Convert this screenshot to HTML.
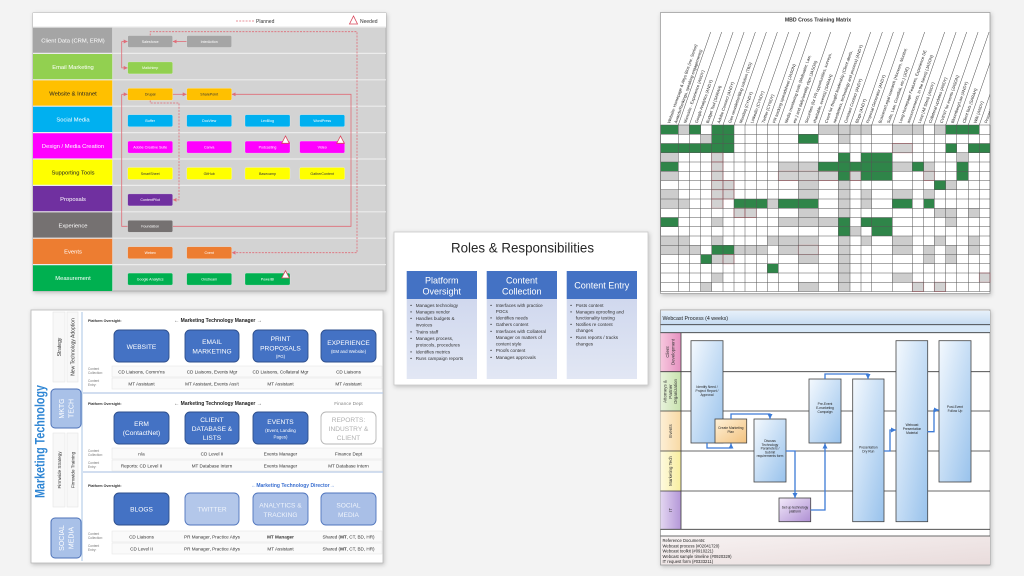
<!DOCTYPE html>
<html><head><meta charset="utf-8">
<style>
html,body{margin:0;padding:0;background:#f3f3f3;}
svg{display:block;font-family:"Liberation Sans",Arial,sans-serif;}
.g{fill:#2f8549}.s{fill:#cdcdcd}.r{fill:#d2d2d2;stroke:#e8707c;stroke-width:0.7}
.bt{font-size:3.6px;fill:#fff;text-anchor:middle}
.btd{font-size:3.6px;fill:#333;text-anchor:middle}
.lb{font-size:5.8px;fill:#fff;text-anchor:middle}
.v{font-size:4.6px;fill:#333;text-anchor:middle}
.cl{font-size:3.2px;fill:#777}
.po{font-size:3.6px;fill:#333;font-weight:bold}
.bx{font-size:6.6px;fill:#fff;text-anchor:middle}
.bs{font-size:4.4px;fill:#fff;text-anchor:middle}
.bl{font-size:4.6px;fill:#333}
.mh{font-size:4.1px;fill:#222}
.wt{font-size:3.3px;fill:#222;text-anchor:middle}
.ln{font-size:4.4px;fill:#333;text-anchor:middle}
</style></head><body>
<svg width="1024" height="576" viewBox="0 0 1024 576" xmlns="http://www.w3.org/2000/svg">
<defs>
 <filter id="sh" x="-5%" y="-5%" width="110%" height="110%"><feDropShadow dx="1" dy="1.5" stdDeviation="2" flood-color="#000" flood-opacity="0.22"/></filter>
 <marker id="ar" markerWidth="4" markerHeight="4" refX="4" refY="2" orient="auto" markerUnits="userSpaceOnUse"><path d="M0,0 L4,2 L0,4 z" fill="#e06d78"/></marker>
 <marker id="ab" markerWidth="5" markerHeight="5" refX="5" refY="2.5" orient="auto" markerUnits="userSpaceOnUse"><path d="M0,0 L5,2.5 L0,5 z" fill="#3d7bd6"/></marker>
 <linearGradient id="lav" x1="0" y1="0" x2="0" y2="1"><stop offset="0" stop-color="#d0d8ee"/><stop offset="1" stop-color="#e2e7f4"/></linearGradient>
 <linearGradient id="tb" x1="0" y1="0" x2="0" y2="1"><stop offset="0" stop-color="#e6f0fa"/><stop offset="1" stop-color="#c6dcf2"/></linearGradient>
 <linearGradient id="bb" x1="0" y1="0" x2="1" y2="1"><stop offset="0" stop-color="#f4f9fe"/><stop offset="1" stop-color="#98c2ec"/></linearGradient>
 <linearGradient id="pe" x1="0" y1="0" x2="1" y2="1"><stop offset="0" stop-color="#fff1d8"/><stop offset="1" stop-color="#f2c27f"/></linearGradient>
 <linearGradient id="pu" x1="0" y1="0" x2="1" y2="1"><stop offset="0" stop-color="#f3eafa"/><stop offset="1" stop-color="#ae8fd3"/></linearGradient>
 <linearGradient id="pk" x1="0" y1="0" x2="1" y2="0"><stop offset="0" stop-color="#f7c8de"/><stop offset="1" stop-color="#e590c0"/></linearGradient>
 <linearGradient id="gr" x1="0" y1="0" x2="1" y2="0"><stop offset="0" stop-color="#e8f3dc"/><stop offset="1" stop-color="#c8e2ae"/></linearGradient>
 <linearGradient id="or" x1="0" y1="0" x2="1" y2="0"><stop offset="0" stop-color="#fdefd6"/><stop offset="1" stop-color="#f8d9a4"/></linearGradient>
 <linearGradient id="ye" x1="0" y1="0" x2="1" y2="0"><stop offset="0" stop-color="#fefae0"/><stop offset="1" stop-color="#f8ee9e"/></linearGradient>
 <linearGradient id="vi" x1="0" y1="0" x2="1" y2="0"><stop offset="0" stop-color="#e3d6f1"/><stop offset="1" stop-color="#b497d8"/></linearGradient>
 <linearGradient id="rf" x1="0" y1="0" x2="1" y2="1"><stop offset="0" stop-color="#f7f2f2"/><stop offset="1" stop-color="#e9dcdc"/></linearGradient>
 <clipPath id="mclip"><rect x="660.5" y="12.5" width="329.5" height="281"/></clipPath>
</defs>
<rect width="1024" height="576" fill="#f3f3f3"/>

<!-- ================= PANEL A ================= -->
<rect x="33" y="13" width="353" height="278" fill="#d3d3d3" stroke="#a8a8a8" stroke-width="0.8" filter="url(#sh)"/>
<rect x="33" y="13" width="353" height="14" fill="#fff"/>
<line x1="236" y1="21" x2="254" y2="21" stroke="#e06d78" stroke-width="0.8" stroke-dasharray="2,1.2"/>
<text x="256" y="23" font-size="5" fill="#333">Planned</text>
<polygon points="353.5,16 349.5,24 357.5,24" fill="#fff" stroke="#d9455a" stroke-width="0.8"/>
<text x="360" y="23" font-size="5" fill="#333">Needed</text>

<rect x="33" y="27" width="79.7" height="26.4" fill="#a5a5a5"/>
<rect x="33" y="53.4" width="79.7" height="26.4" fill="#92d050"/>
<rect x="33" y="79.8" width="79.7" height="26.4" fill="#ffc000"/>
<rect x="33" y="106.2" width="79.7" height="26.4" fill="#00b0f0"/>
<rect x="33" y="132.6" width="79.7" height="26.4" fill="#ff00ff"/>
<rect x="33" y="159" width="79.7" height="26.4" fill="#ffff00"/>
<rect x="33" y="185.4" width="79.7" height="26.4" fill="#7030a0"/>
<rect x="33" y="211.8" width="79.7" height="26.4" fill="#757171"/>
<rect x="33" y="238.2" width="79.7" height="26.4" fill="#ed7d31"/>
<rect x="33" y="264.6" width="79.7" height="26.4" fill="#00b050"/>
<path d="M33 27H386M33 53.4H386M33 79.8H386M33 106.2H386M33 132.6H386M33 159H386M33 185.4H386M33 211.8H386M33 238.2H386M33 264.6H386" stroke="#ececec" stroke-width="1.2"/>
<line x1="112.7" y1="27" x2="112.7" y2="291" stroke="#e4e4e4" stroke-width="0.8"/>

<text class="lb" x="73" y="42.5">Client Data (CRM, ERM)</text>
<text class="lb" x="73" y="68.9">Email Marketing</text>
<text class="lb" x="73" y="95.3" style="fill:#222">Website &amp; Intranet</text>
<text class="lb" x="73" y="121.7">Social Media</text>
<text class="lb" x="73" y="148.1">Design / Media Creation</text>
<text class="lb" x="73" y="174.5" style="fill:#222">Supporting Tools</text>
<text class="lb" x="73" y="200.9">Proposals</text>
<text class="lb" x="73" y="227.3">Experience</text>
<text class="lb" x="73" y="253.7">Events</text>
<text class="lb" x="73" y="280.1">Measurement</text>

<!-- connectors -->
<g fill="none" stroke="#e06d78" stroke-width="0.8">
 <path d="M186.7,41.5 H172.7" marker-end="url(#ar)"/>
 <path d="M121.7,41.5 H127.7" marker-end="url(#ar)"/>
 <path d="M121.7,41.5 V67.9 H127.7" marker-end="url(#ar)"/>
 <path d="M172.7,94.3 H186.7" marker-end="url(#ar)"/>
 <path d="M121.7,94.3 H127.7" marker-end="url(#ar)"/>
 <path d="M121.7,94.3 V226.3 H127.7"/>
 <path d="M172.7,226.3 H351 V94.3 H231.7" marker-end="url(#ar)"/>
 <path d="M150.2,35.5 V31.7 H357 V252.7 H231.7" stroke-dasharray="2,1.2" marker-end="url(#ar)"/>
 <path d="M150.2,100.3 V103 H179 V199.9 H172.7" stroke-dasharray="2,1.2" marker-end="url(#ar)"/>
</g>

<g stroke="#ffffff" stroke-opacity="0.45" stroke-width="0.5">
<rect x="127.7" y="35.5" width="45" height="12" rx="1.5" fill="#a5a5a5"/>
<rect x="186.7" y="35.5" width="45" height="12" rx="1.5" fill="#a5a5a5"/>
<rect x="127.7" y="61.9" width="45" height="12" rx="1.5" fill="#92d050"/>
<rect x="127.7" y="88.3" width="45" height="12" rx="1.5" fill="#ffc000"/>
<rect x="186.7" y="88.3" width="45" height="12" rx="1.5" fill="#ffc000"/>
<rect x="127.7" y="114.7" width="45" height="12" rx="1.5" fill="#00b0f0"/>
<rect x="186.7" y="114.7" width="45" height="12" rx="1.5" fill="#00b0f0"/>
<rect x="245" y="114.7" width="45" height="12" rx="1.5" fill="#00b0f0"/>
<rect x="299.7" y="114.7" width="45" height="12" rx="1.5" fill="#00b0f0"/>
<rect x="127.7" y="141.1" width="45" height="12" rx="1.5" fill="#ff00ff"/>
<rect x="186.7" y="141.1" width="45" height="12" rx="1.5" fill="#ff00ff"/>
<rect x="245" y="141.1" width="45" height="12" rx="1.5" fill="#ff00ff"/>
<rect x="299.7" y="141.1" width="45" height="12" rx="1.5" fill="#ff00ff"/>
<rect x="127.7" y="167.5" width="45" height="12" rx="1.5" fill="#ffff00"/>
<rect x="186.7" y="167.5" width="45" height="12" rx="1.5" fill="#ffff00"/>
<rect x="245" y="167.5" width="45" height="12" rx="1.5" fill="#ffff00"/>
<rect x="299.7" y="167.5" width="45" height="12" rx="1.5" fill="#ffff00"/>
<rect x="127.7" y="193.9" width="45" height="12" rx="1.5" fill="#7030a0"/>
<rect x="127.7" y="220.3" width="45" height="12" rx="1.5" fill="#757171"/>
<rect x="127.7" y="246.7" width="45" height="12" rx="1.5" fill="#ed7d31"/>
<rect x="186.7" y="246.7" width="45" height="12" rx="1.5" fill="#ed7d31"/>
<rect x="127.7" y="273.1" width="45" height="12" rx="1.5" fill="#00b050"/>
<rect x="186.7" y="273.1" width="45" height="12" rx="1.5" fill="#00b050"/>
<rect x="245" y="273.1" width="45" height="12" rx="1.5" fill="#00b050"/>
</g>
<text class="bt" x="150.2" y="42.8">Salesforce</text>
<text class="bt" x="209.2" y="42.8">InterAction</text>
<text class="bt" x="150.2" y="69.2">Mailchimp</text>
<text class="btd" x="150.2" y="95.6">Drupal</text>
<text class="btd" x="209.2" y="95.6">SharePoint</text>
<text class="bt" x="150.2" y="122">Buffer</text>
<text class="bt" x="209.2" y="122">DocView</text>
<text class="bt" x="267.5" y="122">LexBlog</text>
<text class="bt" x="322.2" y="122">WordPress</text>
<text class="bt" x="150.2" y="148.4">Adobe Creative Suite</text>
<text class="bt" x="209.2" y="148.4">Canva</text>
<text class="bt" x="267.5" y="148.4">Podcasting</text>
<text class="bt" x="322.2" y="148.4">Video</text>
<text class="btd" x="150.2" y="174.8">SmartSheet</text>
<text class="btd" x="209.2" y="174.8">GitHub</text>
<text class="btd" x="267.5" y="174.8">Basecamp</text>
<text class="btd" x="322.2" y="174.8">GatherContent</text>
<text class="bt" x="150.2" y="201.2">ContentPilot</text>
<text class="bt" x="150.2" y="227.6">Foundation</text>
<text class="bt" x="150.2" y="254">Webex</text>
<text class="bt" x="209.2" y="254">Cvent</text>
<text class="bt" x="150.2" y="280.4">Google Analytics</text>
<text class="bt" x="209.2" y="280.4">Onstream</text>
<text class="bt" x="267.5" y="280.4">PowerBI</text>
<g fill="#fff" stroke="#d9455a" stroke-width="0.8">
<polygon points="285.5,136 281.7,143.3 289.3,143.3"/>
<polygon points="340.5,136 336.7,143.3 344.3,143.3"/>
<polygon points="285.5,270.7 281.7,278 289.3,278"/>
</g>

<!-- ================= PANEL B ================= -->
<rect x="31" y="310" width="352" height="253" fill="#fff" stroke="#b8b8b8" stroke-width="0.8" filter="url(#sh)"/>
<text transform="translate(44.5,441.5) rotate(-90)" text-anchor="middle" font-size="14" font-weight="bold" fill="#2f86d4" textLength="113" lengthAdjust="spacingAndGlyphs">Marketing Technology</text>
<g fill="#f8f8f8" stroke="#e0e0e0" stroke-width="0.5">
<rect x="53" y="312" width="12" height="70"/>
<rect x="67" y="312" width="11" height="70"/>
<rect x="53" y="433" width="12" height="74"/>
<rect x="67" y="433" width="11" height="74"/>
</g>
<text transform="translate(61,347) rotate(-90)" class="ln" style="font-size:5px">Strategy</text>
<text transform="translate(74.5,347) rotate(-90)" class="ln" style="font-size:5px">New Technology Adoption</text>
<text transform="translate(61,470) rotate(-90)" class="ln" style="font-size:4.6px">Firmwide Strategy</text>
<text transform="translate(74.5,470) rotate(-90)" class="ln" style="font-size:4.6px">Firmwide Training</text>
<rect x="51" y="389" width="30" height="39" rx="4" fill="#a9c1e8" stroke="#4d72b8" stroke-width="1"/>
<text transform="translate(64,408.5) rotate(-90)" text-anchor="middle" font-size="7" fill="#fff">MKTG</text>
<text transform="translate(73.5,408.5) rotate(-90)" text-anchor="middle" font-size="7" fill="#fff">TECH</text>
<rect x="51" y="518" width="30" height="40" rx="4" fill="#a9c1e8" stroke="#4d72b8" stroke-width="1"/>
<text transform="translate(64,538) rotate(-90)" text-anchor="middle" font-size="7" fill="#fff">SOCIAL</text>
<text transform="translate(73.5,538) rotate(-90)" text-anchor="middle" font-size="7" fill="#fff">MEDIA</text>
<line x1="82" y1="312" x2="82" y2="561" stroke="#a8c4e6" stroke-width="1"/>
<path d="M83 393H383M83 472H383" stroke="#b7cbe8" stroke-width="1.2"/>

<!-- bands -->
<g fill="#fafafa" stroke="#e4e4e4" stroke-width="0.5">
<rect x="112" y="366" width="270" height="11"/><rect x="112" y="378" width="270" height="11"/>
<rect x="112" y="448" width="270" height="11"/><rect x="112" y="460" width="270" height="11"/>
<rect x="112" y="531" width="270" height="11"/><rect x="112" y="543" width="270" height="11"/>
</g>

<!-- S1 -->
<text class="po" x="88" y="322">Platform Oversight:</text>
<text x="218" y="322" text-anchor="middle" font-size="5" font-weight="bold" fill="#222">← Marketing Technology Manager →</text>
<g fill="#4472c4" stroke="#2e4f8c" stroke-width="0.9">
<rect x="114" y="330" width="55" height="32" rx="5"/>
<rect x="185" y="330" width="54" height="32" rx="5"/>
<rect x="253" y="330" width="55" height="32" rx="5"/>
<rect x="321" y="330" width="55" height="32" rx="5"/>
</g>
<text class="bx" x="141.5" y="349">WEBSITE</text>
<text class="bx" x="212" y="344">EMAIL</text>
<text class="bx" x="212" y="353.3">MARKETING</text>
<text class="bx" x="280.5" y="340.8">PRINT</text>
<text class="bx" x="280.5" y="350.6">PROPOSALS</text>
<text class="bs" x="280.5" y="358.2">(PG)</text>
<text class="bx" x="348.5" y="345.2">EXPERIENCE</text>
<text class="bs" x="348.5" y="353.2">(EM and Website)</text>
<text class="cl" x="88" y="370">Content</text><text class="cl" x="88" y="374">Collection:</text>
<text class="cl" x="88" y="382">Content</text><text class="cl" x="88" y="386">Entry:</text>
<text class="v" x="141.5" y="373.3">CD Liaisons, Comm'ns</text>
<text class="v" x="212" y="373.3">CD Liaisons, Events Mgr</text>
<text class="v" x="280.5" y="373.3">CD Liaisons, Collateral Mgr</text>
<text class="v" x="348.5" y="373.3">CD Liaisons</text>
<text class="v" x="141.5" y="385.3">MT Assistant</text>
<text class="v" x="212" y="385.3">MT Assistant, Events Ass't</text>
<text class="v" x="280.5" y="385.3">MT Assistant</text>
<text class="v" x="348.5" y="385.3">MT Assistant</text>

<!-- S2 -->
<text class="po" x="88" y="405">Platform Oversight:</text>
<text x="218" y="405" text-anchor="middle" font-size="5" font-weight="bold" fill="#222">← Marketing Technology Manager →</text>
<text x="348.5" y="405" text-anchor="middle" font-size="4.8" fill="#888">Finance Dept</text>
<g fill="#4472c4" stroke="#2e4f8c" stroke-width="0.9">
<rect x="114" y="412" width="55" height="32" rx="5"/>
<rect x="185" y="412" width="54" height="32" rx="5"/>
<rect x="253" y="412" width="55" height="32" rx="5"/>
</g>
<rect x="321" y="412" width="55" height="32" rx="5" fill="#fff" stroke="#b5b5b5" stroke-width="0.9"/>
<text class="bx" x="141.5" y="425.8">ERM</text>
<text class="bx" x="141.5" y="435.2">(ContactNet)</text>
<text class="bx" x="212" y="421.8">CLIENT</text>
<text class="bx" x="212" y="430.8">DATABASE &amp;</text>
<text class="bx" x="212" y="439.8">LISTS</text>
<text class="bx" x="280.5" y="424.2">EVENTS</text>
<text class="bs" x="280.5" y="431.8">(Event, Landing</text>
<text class="bs" x="280.5" y="438.3">Pages)</text>
<text class="bx" x="348.5" y="421.8" style="fill:#b0b0b0">REPORTS:</text>
<text class="bx" x="348.5" y="430.8" style="fill:#b0b0b0">INDUSTRY &amp;</text>
<text class="bx" x="348.5" y="439.8" style="fill:#b0b0b0">CLIENT</text>
<text class="cl" x="88" y="452">Content</text><text class="cl" x="88" y="456">Collection:</text>
<text class="cl" x="88" y="464">Content</text><text class="cl" x="88" y="468">Entry:</text>
<text class="v" x="141.5" y="455.3">n/a</text>
<text class="v" x="212" y="455.3">CD Level II</text>
<text class="v" x="280.5" y="455.3">Events Manager</text>
<text class="v" x="348.5" y="455.3">Finance Dept</text>
<text class="v" x="141.5" y="467.3">Reports: CD Level II</text>
<text class="v" x="212" y="467.3">MT Database Intern</text>
<text class="v" x="280.5" y="467.3">Events Manager</text>
<text class="v" x="348.5" y="467.3">MT Database Intern</text>

<!-- S3 -->
<text class="po" x="88" y="487">Platform Oversight:</text>
<text x="293" y="487" text-anchor="middle" font-size="5" font-weight="bold" fill="#3a6fd0">←Marketing Technology Director→</text>
<rect x="114" y="493" width="55" height="32" rx="5" fill="#4472c4" stroke="#2e4f8c" stroke-width="0.9"/>
<rect x="185" y="493" width="54" height="32" rx="5" fill="#b3c7ea" stroke="#5075bd" stroke-width="0.9"/>
<rect x="253" y="493" width="55" height="32" rx="5" fill="#a9bfe7" stroke="#5075bd" stroke-width="0.9"/>
<rect x="321" y="493" width="55" height="32" rx="5" fill="#a9bfe7" stroke="#5075bd" stroke-width="0.9"/>
<text class="bx" x="141.5" y="511.5">BLOGS</text>
<text class="bx" x="212" y="511.5" style="fill:#eef3fb">TWITTER</text>
<text class="bx" x="280.5" y="507.5" style="fill:#eef3fb">ANALYTICS &amp;</text>
<text class="bx" x="280.5" y="516.8" style="fill:#eef3fb">TRACKING</text>
<text class="bx" x="348.5" y="507.5" style="fill:#eef3fb">SOCIAL</text>
<text class="bx" x="348.5" y="516.8" style="fill:#eef3fb">MEDIA</text>
<text class="cl" x="88" y="535">Content</text><text class="cl" x="88" y="539">Collection:</text>
<text class="cl" x="88" y="547">Content</text><text class="cl" x="88" y="551">Entry:</text>
<text class="v" x="141.5" y="538.3">CD Liaisons</text>
<text class="v" x="212" y="538.3">PR Manager, Practice Attys</text>
<text class="v" x="280.5" y="538.3" font-weight="bold">MT Manager</text>
<text class="v" x="348.5" y="538.3">Shared (<tspan font-weight="bold">MT</tspan>, CT, BD, HR)</text>
<text class="v" x="141.5" y="550.3">CD Level II</text>
<text class="v" x="212" y="550.3">PR Manager, Practice Attys</text>
<text class="v" x="280.5" y="550.3">MT Assistant</text>
<text class="v" x="348.5" y="550.3">Shared (<tspan font-weight="bold">MT</tspan>, CT, BD, HR)</text>

<!-- ================= PANEL C ================= -->
<rect x="394" y="232" width="254" height="153" fill="#fff" stroke="#c8c8c8" stroke-width="0.8" filter="url(#sh)"/>
<text x="522.5" y="252.5" text-anchor="middle" font-size="14" fill="#262626" textLength="143" lengthAdjust="spacingAndGlyphs">Roles &amp; Responsibilities</text>
<rect x="406.7" y="271" width="70.3" height="28" fill="#4472c4"/>
<rect x="486.7" y="271" width="70.3" height="28" fill="#4472c4"/>
<rect x="566.7" y="271" width="70.3" height="28" fill="#4472c4"/>
<rect x="406.7" y="299" width="70.3" height="80" fill="url(#lav)"/>
<rect x="486.7" y="299" width="70.3" height="80" fill="url(#lav)"/>
<rect x="566.7" y="299" width="70.3" height="80" fill="url(#lav)"/>
<g font-size="9" fill="#fff" text-anchor="middle">
<text x="441.8" y="283.5">Platform</text><text x="441.8" y="294.5">Oversight</text>
<text x="521.8" y="283.5">Content</text><text x="521.8" y="294.5">Collection</text>
<text x="601.8" y="288.5">Content Entry</text>
</g>
<g class="bl">
<text x="410.3" y="307">•</text><text x="415.7" y="307">Manages technology</text>
<text x="410.3" y="313.6">•</text><text x="415.7" y="313.6">Manages vendor</text>
<text x="410.3" y="319.9">•</text><text x="415.7" y="319.9">Handles budgets &amp;</text>
<text x="415.7" y="326.6">invoices</text>
<text x="410.3" y="333.3">•</text><text x="415.7" y="333.3">Trains staff</text>
<text x="410.3" y="339.9">•</text><text x="415.7" y="339.9">Manages process,</text>
<text x="415.7" y="346.6">protocols, procedures</text>
<text x="410.3" y="353.3">•</text><text x="415.7" y="353.3">Identifies metrics</text>
<text x="410.3" y="359.9">•</text><text x="415.7" y="359.9">Runs campaign reports</text>

<text x="490.3" y="307">•</text><text x="495.7" y="307">Interfaces with practice</text>
<text x="495.7" y="313">POCs</text>
<text x="490.3" y="319.6">•</text><text x="495.7" y="319.6">Identifies needs</text>
<text x="490.3" y="326.2">•</text><text x="495.7" y="326.2">Gathers content</text>
<text x="490.3" y="332.9">•</text><text x="495.7" y="332.9">Interfaces with Collateral</text>
<text x="495.7" y="339.2">Manager on matters of</text>
<text x="495.7" y="345.6">content style</text>
<text x="490.3" y="352.2">•</text><text x="495.7" y="352.2">Proofs content</text>
<text x="490.3" y="358.9">•</text><text x="495.7" y="358.9">Manages approvals</text>

<text x="570.3" y="307">•</text><text x="575.7" y="307">Posts content</text>
<text x="570.3" y="313.6">•</text><text x="575.7" y="313.6">Manages eproofing and</text>
<text x="575.7" y="319.6">functionality testing</text>
<text x="570.3" y="326.2">•</text><text x="575.7" y="326.2">Notifies re content</text>
<text x="575.7" y="332.2">changes</text>
<text x="570.3" y="338.9">•</text><text x="575.7" y="338.9">Runs reports / tracks</text>
<text x="575.7" y="345.6">changes</text>
</g>

<!-- ================= PANEL D (matrix) ================= -->
<rect x="660.5" y="12.5" width="329.5" height="281" fill="#fff" stroke="#a0a0a0" stroke-width="0.8" filter="url(#sh)"/>
<text x="818" y="21.5" text-anchor="middle" font-size="5.2" font-weight="bold" fill="#333">MBD Cross Training Matrix</text>
<g clip-path="url(#mclip)">
<path d="M678.3 125L710.7 32M689.3 125L721.7 32M700.7 125L733.1 32M711.7 125L744.1 32M723 125L755.4 32M734 125L766.4 32M745 125L777.4 32M756.3 125L788.7 32M767.3 125L799.7 32M778.3 125L810.7 32M798.3 125L830.7 32M818.3 125L850.7 32M838.3 125L870.7 32M850 125L882.4 32M861 125L893.4 32M871.7 125L904.1 32M892.3 125L924.7 32M912.3 125L944.7 32M923.7 125L956.1 32M934.3 125L966.7 32M945.7 125L978.1 32M956.7 125L989.1 32M968.3 125L1000.7 32M979.3 125L1011.7 32M990 125L1022.4 32" stroke="#444" stroke-width="0.5" fill="none"/>
<g class="mh">
<text transform="translate(670,123.5) rotate(-70.8)">Website: Homepage &amp; Attys Bios (inc. Senior)</text>
<text transform="translate(676.8,123.5) rotate(-70.8)">Awards/Rankings, speaking engagements)</text>
<text transform="translate(686.2,123.5) rotate(-70.8)">Microsite - Experience (ANDY)</text>
<text transform="translate(697.5,123.5) rotate(-70.8)">Google Analytics (ANDY)</text>
<text transform="translate(708.6,123.5) rotate(-70.8)">Budget Tool (SARAH)</text>
<text transform="translate(719.8,123.5) rotate(-70.8)">Adobe Connect (ANDY)</text>
<text transform="translate(730.9,123.5) rotate(-70.8)">Gen newsletter/Blog solution (TBD)</text>
<text transform="translate(741.9,123.5) rotate(-70.8)">Mondaq (CYNDY)</text>
<text transform="translate(753.1,123.5) rotate(-70.8)">LinkedIn (CYNDY)</text>
<text transform="translate(764.2,123.5) rotate(-70.8)">Twitter (CYNDY)</text>
<text transform="translate(775.2,123.5) rotate(-70.8)">PR tracking spreadsheet (JASON)</text>
<text transform="translate(787.3,123.5) rotate(-70.8)">Media monitoring tools (Meltwater, Law,</text>
<text transform="translate(795.5,123.5) rotate(-70.8)">etc.) and daily/weekly clips (JASON)</text>
<text transform="translate(807.3,123.5) rotate(-70.8)">Securities (for PR opportunities, surveys,</text>
<text transform="translate(815.5,123.5) rotate(-70.8)">charitable, events) (SARAH)</text>
<text transform="translate(827.3,123.5) rotate(-70.8)">Cvent for thought leadership (Client alerts,</text>
<text transform="translate(835.5,123.5) rotate(-70.8)">newsletters, technology and process) (ANDY)</text>
<text transform="translate(846.7,123.5) rotate(-70.8)">Constant Contact (ANDY)</text>
<text transform="translate(857.9,123.5) rotate(-70.8)">Blogs (ANDY)</text>
<text transform="translate(868.7,123.5) rotate(-70.8)">Proposal Generator (ANDY)</text>
<text transform="translate(881,123.5) rotate(-70.8)">Business/Legal research (Hoovers, Monitor,</text>
<text transform="translate(889.5,123.5) rotate(-70.8)">Suite, Law, Courtlink, etc.) (JOE)</text>
<text transform="translate(901.3,123.5) rotate(-70.8)">Long Homepage Features, Experience DE</text>
<text transform="translate(909.5,123.5) rotate(-70.8)">announcements, In the News) (JASON)</text>
<text transform="translate(920.5,123.5) rotate(-70.8)">Loop (All Sites) (ANDY)</text>
<text transform="translate(931.3,123.5) rotate(-70.8)">Collateral updates (ANDY)</text>
<text transform="translate(942.5,123.5) rotate(-70.8)">CVENT for events (JASON)</text>
<text transform="translate(953.6,123.5) rotate(-70.8)">Bloomberg/Law (ANDY)</text>
<text transform="translate(965.1,123.5) rotate(-70.8)">Client lists (SARAH)</text>
<text transform="translate(976.2,123.5) rotate(-70.8)">Wiki (ANDY)</text>
<text transform="translate(987,123.5) rotate(-70.8)">Prospect Tracker (ANDY)</text>
</g>
</g>

<!-- cells -->
<g transform="translate(0,125)">
<rect class="g" x="660.7" width="17.6" height="9.25"/><rect class="s" x="678.3" width="11" height="9.25"/><rect class="g" x="689.3" width="11.4" height="9.25"/><rect class="g" x="711.7" width="11.3" height="9.25"/><rect class="g" x="723" width="11" height="9.25"/><rect class="s" x="818.3" width="20" height="9.25"/><rect class="s" x="838.3" width="11.7" height="9.25"/><rect class="s" x="850" width="11" height="9.25"/><rect class="s" x="861" width="10.7" height="9.25"/><rect class="s" x="892.3" width="20" height="9.25"/><rect class="s" x="912.3" width="11.4" height="9.25"/><rect class="s" x="934.3" width="11.4" height="9.25"/><rect class="g" x="945.7" width="11" height="9.25"/><rect class="g" x="956.7" width="11.6" height="9.25"/><rect class="g" x="968.3" width="11" height="9.25"/>
</g>
<g transform="translate(0,134.25)">
<rect class="s" x="700.7" width="11" height="9.25"/><rect class="g" x="711.7" width="11.3" height="9.25"/><rect class="g" x="723" width="11" height="9.25"/><rect class="g" x="798.3" width="20" height="9.25"/><rect class="s" x="838.3" width="11.7" height="9.25"/>
</g>
<g transform="translate(0,143.5)">
<rect class="g" x="660.7" width="73.3" height="9.25"/><rect class="r" x="892.3" width="20" height="9.25"/><rect class="g" x="945.7" width="11" height="9.25"/><rect class="g" x="968.3" width="21.7" height="9.25"/>
</g>
<g transform="translate(0,152.75)">
<rect class="s" x="660.7" width="17.6" height="9.25"/><rect class="r" x="711.7" width="11.3" height="9.25"/><rect class="g" x="838.3" width="11.7" height="9.25"/><rect class="g" x="861" width="31.3" height="9.25"/><rect class="s" x="956.7" width="11.6" height="9.25"/>
</g>
<g transform="translate(0,162)">
<rect class="g" x="660.7" width="17.6" height="9.25"/><rect class="r" x="711.7" width="11.3" height="9.25"/><rect class="s" x="778.3" width="40" height="9.25"/><rect class="g" x="818.3" width="74" height="9.25"/><rect class="s" x="892.3" width="20" height="9.25"/><rect class="g" x="912.3" width="11.4" height="9.25"/><rect class="s" x="923.7" width="10.6" height="9.25"/><rect class="g" x="956.7" width="11.6" height="9.25"/>
</g>
<g transform="translate(0,171.25)">
<rect class="s" x="660.7" width="17.6" height="9.25"/><rect class="r" x="711.7" width="11.3" height="9.25"/><rect class="r" x="778.3" width="60" height="9.25"/><rect class="g" x="838.3" width="11.7" height="9.25"/><rect class="r" x="850" width="11" height="9.25"/><rect class="g" x="861" width="31.3" height="9.25"/><rect class="r" x="923.7" width="10.6" height="9.25"/><rect class="g" x="956.7" width="11.6" height="9.25"/>
</g>
<g transform="translate(0,180.5)">
<rect class="r" x="711.7" width="11.3" height="9.25"/><rect class="r" x="723" width="11" height="9.25"/><rect class="s" x="798.3" width="20" height="9.25"/><rect class="s" x="838.3" width="11.7" height="9.25"/><rect class="g" x="934.3" width="11.4" height="9.25"/><rect class="s" x="945.7" width="11" height="9.25"/>
</g>
<g transform="translate(0,189.75)">
<rect class="s" x="660.7" width="17.6" height="9.25"/><rect class="r" x="711.7" width="11.3" height="9.25"/><rect class="r" x="723" width="11" height="9.25"/><rect class="s" x="798.3" width="20" height="9.25"/><rect class="s" x="838.3" width="11.7" height="9.25"/><rect class="s" x="861" width="10.7" height="9.25"/><rect class="s" x="892.3" width="20" height="9.25"/><rect class="s" x="923.7" width="10.6" height="9.25"/>
</g>
<g transform="translate(0,199)">
<rect class="s" x="660.7" width="28.6" height="9.25"/><rect class="r" x="711.7" width="11.3" height="9.25"/><rect class="g" x="734" width="33.3" height="9.25"/><rect class="s" x="767.3" width="11" height="9.25"/><rect class="g" x="778.3" width="40" height="9.25"/><rect class="s" x="838.3" width="11.7" height="9.25"/><rect class="s" x="861" width="10.7" height="9.25"/><rect class="g" x="892.3" width="20" height="9.25"/><rect class="g" x="923.7" width="10.6" height="9.25"/>
</g>
<g transform="translate(0,208.25)">
<rect class="r" x="734" width="11" height="9.25"/><rect class="r" x="745" width="11.3" height="9.25"/><rect class="s" x="798.3" width="20" height="9.25"/><rect class="s" x="838.3" width="11.7" height="9.25"/><rect class="s" x="934.3" width="22.4" height="9.25"/><rect class="s" x="968.3" width="11" height="9.25"/>
</g>
<g transform="translate(0,217.5)">
<rect class="g" x="660.7" width="17.6" height="9.25"/><rect class="s" x="711.7" width="11.3" height="9.25"/><rect class="s" x="778.3" width="60" height="9.25"/><rect class="g" x="838.3" width="11.7" height="9.25"/><rect class="g" x="861" width="31.3" height="9.25"/><rect class="s" x="945.7" width="11" height="9.25"/>
</g>
<g transform="translate(0,226.75)">
<rect class="g" x="838.3" width="11.7" height="9.25"/><rect class="s" x="850" width="11" height="9.25"/><rect class="g" x="871.7" width="20.6" height="9.25"/>
</g>
<g transform="translate(0,236)">
<rect class="s" x="660.7" width="28.6" height="9.25"/><rect class="s" x="711.7" width="11.3" height="9.25"/><rect class="s" x="767.3" width="51" height="9.25"/><rect class="s" x="838.3" width="11.7" height="9.25"/><rect class="s" x="861" width="10.7" height="9.25"/><rect class="s" x="892.3" width="20" height="9.25"/><rect class="s" x="934.3" width="11.4" height="9.25"/><rect class="s" x="968.3" width="11" height="9.25"/>
</g>
<g transform="translate(0,245.25)">
<rect class="s" x="660.7" width="40" height="9.25"/><rect class="g" x="711.7" width="22.3" height="9.25"/><rect class="s" x="734" width="33.3" height="9.25"/><rect class="s" x="778.3" width="20" height="9.25"/><rect class="r" x="798.3" width="20" height="9.25"/><rect class="s" x="838.3" width="11.7" height="9.25"/><rect class="s" x="892.3" width="20" height="9.25"/><rect class="s" x="923.7" width="10.6" height="9.25"/><rect class="s" x="945.7" width="11" height="9.25"/><rect class="s" x="968.3" width="11" height="9.25"/>
</g>
<g transform="translate(0,254.5)">
<rect class="g" x="700.7" width="11" height="9.25"/><rect class="s" x="711.7" width="11.3" height="9.25"/><rect class="r" x="723" width="11" height="9.25"/><rect class="s" x="798.3" width="20" height="9.25"/><rect class="s" x="838.3" width="11.7" height="9.25"/><rect class="s" x="923.7" width="10.6" height="9.25"/><rect class="s" x="945.7" width="11" height="9.25"/>
</g>
<g transform="translate(0,263.75)">
<rect class="g" x="767.3" width="11" height="9.25"/><rect class="s" x="838.3" width="11.7" height="9.25"/>
</g>
<g transform="translate(0,273)">
<rect class="s" x="711.7" width="11.3" height="9.25"/><rect class="s" x="838.3" width="11.7" height="9.25"/><rect class="s" x="892.3" width="20" height="9.25"/><rect class="r" x="979.3" width="10.7" height="9.25"/>
</g>
<g transform="translate(0,282.25)">
<rect class="s" x="700.7" width="11" height="9.25"/><rect class="s" x="798.3" width="20" height="9.25"/><rect class="s" x="838.3" width="11.7" height="9.25"/><rect class="r" x="912.3" width="11.4" height="9.25"/><rect class="r" x="934.3" width="11.4" height="9.25"/>
</g>
<path d="M660.7 125V291.5M678.3 125V291.5M689.3 125V291.5M700.7 125V291.5M711.7 125V291.5M723 125V291.5M734 125V291.5M745 125V291.5M756.3 125V291.5M767.3 125V291.5M778.3 125V291.5M798.3 125V291.5M818.3 125V291.5M838.3 125V291.5M850 125V291.5M861 125V291.5M871.7 125V291.5M892.3 125V291.5M912.3 125V291.5M923.7 125V291.5M934.3 125V291.5M945.7 125V291.5M956.7 125V291.5M968.3 125V291.5M979.3 125V291.5M990 125V291.5M660.7 125H990M660.7 134.25H990M660.7 143.5H990M660.7 152.75H990M660.7 162H990M660.7 171.25H990M660.7 180.5H990M660.7 189.75H990M660.7 199H990M660.7 208.25H990M660.7 217.5H990M660.7 226.75H990M660.7 236H990M660.7 245.25H990M660.7 254.5H990M660.7 263.75H990M660.7 273H990M660.7 282.25H990M660.7 291.5H990" stroke="#555" stroke-width="0.5" fill="none"/>

<!-- ================= PANEL E (webcast) ================= -->
<rect x="660.5" y="310" width="329.5" height="255" fill="#fff" stroke="#9a9a9a" stroke-width="0.8" filter="url(#sh)"/>
<rect x="661" y="311" width="329" height="13.5" fill="url(#tb)"/>
<text x="662.5" y="320" font-size="5.3" fill="#222">Webcast Process (4 weeks)</text>
<rect x="661" y="325" width="329" height="7.7" fill="#d7e8f8"/>
<rect x="660.5" y="332.7" width="20.5" height="39" fill="url(#pk)"/>
<rect x="660.5" y="371.7" width="20.5" height="39.3" fill="url(#gr)"/>
<rect x="660.5" y="411" width="20.5" height="40" fill="url(#or)"/>
<rect x="660.5" y="451" width="20.5" height="40" fill="url(#ye)"/>
<rect x="660.5" y="491" width="20.5" height="38.3" fill="url(#vi)"/>
<path d="M660.5 324.7H990M660.5 332.7H990M660.5 371.7H990M660.5 411H990M660.5 451H990M660.5 491H990M660.5 529.3H990M660.5 536H990M681 332.7V529.3" stroke="#3a3a3a" stroke-width="0.8" fill="none"/>
<text transform="translate(669,352) rotate(-90)" class="ln">Client</text>
<text transform="translate(674.5,352) rotate(-90)" class="ln">Development</text>
<text transform="translate(666.5,391.5) rotate(-90)" class="ln">Attorneys &amp;</text>
<text transform="translate(671.8,391.5) rotate(-90)" class="ln">Partner</text>
<text transform="translate(677,391.5) rotate(-90)" class="ln">Organization</text>
<text transform="translate(672,431) rotate(-90)" class="ln">Events</text>
<text transform="translate(672,471) rotate(-90)" class="ln">Marketing Tech</text>
<text transform="translate(672,510) rotate(-90)" class="ln">IT</text>

<g stroke="#444" stroke-width="0.8">
<rect x="691" y="340.7" width="32" height="102.3" fill="url(#bb)"/>
<rect x="715" y="419" width="31.7" height="24" fill="url(#pe)"/>
<rect x="754" y="419" width="32" height="63" fill="url(#bb)"/>
<rect x="809" y="379" width="32" height="64" fill="url(#bb)"/>
<rect x="852.7" y="379" width="31.3" height="142.7" fill="url(#bb)"/>
<rect x="896" y="340.7" width="31.7" height="181" fill="url(#bb)"/>
<rect x="939" y="340.7" width="32" height="141.3" fill="url(#bb)"/>
<rect x="779" y="498" width="31.7" height="23.7" fill="url(#pu)"/>
</g>
<g class="wt">
<text x="707" y="388">Identify Need /</text><text x="707" y="392">Project Report /</text><text x="707" y="396">Approval</text>
<text x="730.8" y="429">Create Marketing</text><text x="730.8" y="433">Plan</text>
<text x="770" y="442">Discuss</text><text x="770" y="445.8">Technology</text><text x="770" y="449.6">Parameters /</text><text x="770" y="453.4">Submit</text><text x="770" y="457.2">requirements form</text>
<text x="825" y="405">Pre-Event</text><text x="825" y="409">E-marketing</text><text x="825" y="413">Campaign</text>
<text x="868.3" y="448.5">Presentation</text><text x="868.3" y="452.5">Dry Run</text>
<text x="912" y="426">Webcast</text><text x="912" y="430">Presentation</text><text x="912" y="434">Material</text>
<text x="955" y="408">Post-Event</text><text x="955" y="412">Follow Up</text>
<text x="795" y="508.5">Set up technology</text><text x="795" y="512.5">platform</text>
</g>
<g fill="none" stroke="#3d7bd6" stroke-width="1.3">
<path d="M707,443 V448 H731 V443.5" marker-end="url(#ab)"/>
<path d="M731,419 V414 H770 V419" marker-end="url(#ab)"/>
<path d="M786,451 H795 V498" marker-end="url(#ab)"/>
<path d="M810.7,510 H825 V443.5" marker-end="url(#ab)"/>
<path d="M825,379 V374 H868 V379" marker-end="url(#ab)"/>
<path d="M884,451 H890 V430 H896" marker-end="url(#ab)"/>
<path d="M927.7,431.7 H934 V410 H939" marker-end="url(#ab)"/>
</g>
<rect x="661" y="536.5" width="329" height="28" fill="url(#rf)"/>
<g font-size="4.2" fill="#222">
<text x="662.5" y="542">Reference Documents:</text>
<text x="662.5" y="547.3">Webcast process (#02041720)</text>
<text x="662.5" y="552.6">Webcast toolkit (#0910221)</text>
<text x="662.5" y="557.9">Webcast sample timeline (#0920329)</text>
<text x="662.5" y="563">IT request form (#0333211)</text>
</g>
</svg>
</body></html>
